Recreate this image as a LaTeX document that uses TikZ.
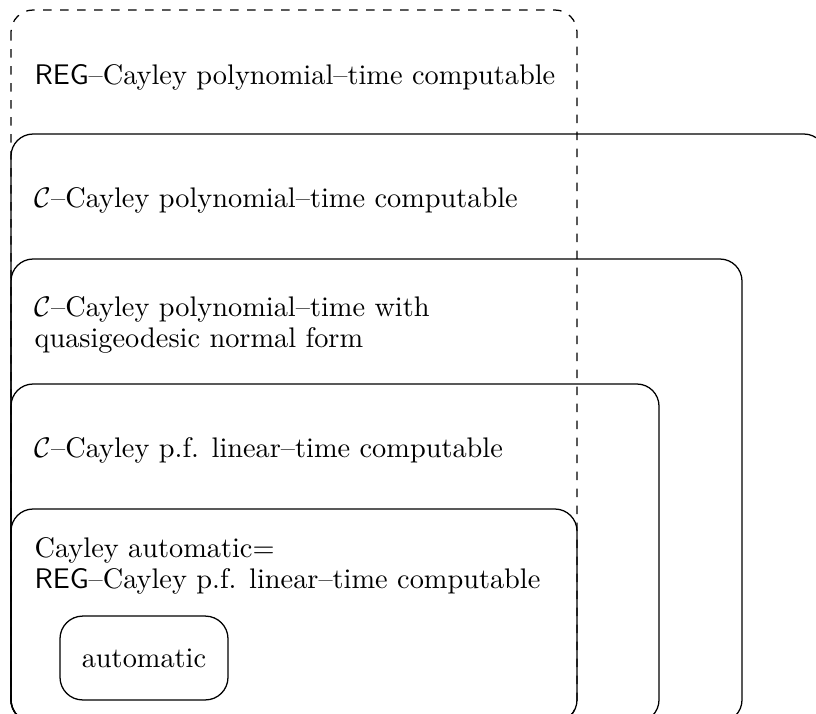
\documentclass[tikz,border=0pt]{standalone}
\begin{document}
\begin{tikzpicture}[x=0.353pt,y=-0.353pt,
  region/.style={draw,line width=0.45pt,rounded corners=7.8pt},
  dregion/.style={region,dashed},
  lbl/.style={anchor=base west,inner sep=0pt,font=\fontsize{10}{12}\selectfont},
  autobox/.style={draw,line width=0.45pt,rounded corners=8pt,minimum width=59.3pt,minimum height=29.6pt,inner sep=0pt,font=\fontsize{10}{12}\selectfont}]
\useasboundingbox (0,0) rectangle (816,713);
\clip (0,0) rectangle (816,713);
% nested regions
\draw[region] (11,134) rectangle (826,722);
\draw[region] (11,259) rectangle (742,722);
\draw[region] (11,384) rectangle (659,722);
\draw[region] (11,509) rectangle (577,722);
\draw[dregion] (11,10) rectangle (577,722);
% labels
\node[lbl] (regpoly) at (34,84) {\textsf{REG}--Cayley polynomial--time computable};
\node[lbl] (cpoly) at (34,207) {$\mathcal{C}$--Cayley polynomial--time computable};
\node[lbl] (cquasi) at (34,316) {\renewcommand\arraystretch{0.94}\begin{tabular}[t]{@{}l@{}}$\mathcal{C}$--Cayley polynomial--time with\\quasigeodesic normal form\end{tabular}};
\node[lbl] (clin) at (34,457) {$\mathcal{C}$--Cayley p.f. linear--time computable};
\node[lbl] (cayauto) at (34,557) {\renewcommand\arraystretch{0.94}\begin{tabular}[t]{@{}l@{}}Cayley automatic=\\\textsf{REG}--Cayley p.f. linear--time computable\end{tabular}};
\node[autobox] (auto) at (144,658) {automatic};
\end{tikzpicture}
\end{document}
